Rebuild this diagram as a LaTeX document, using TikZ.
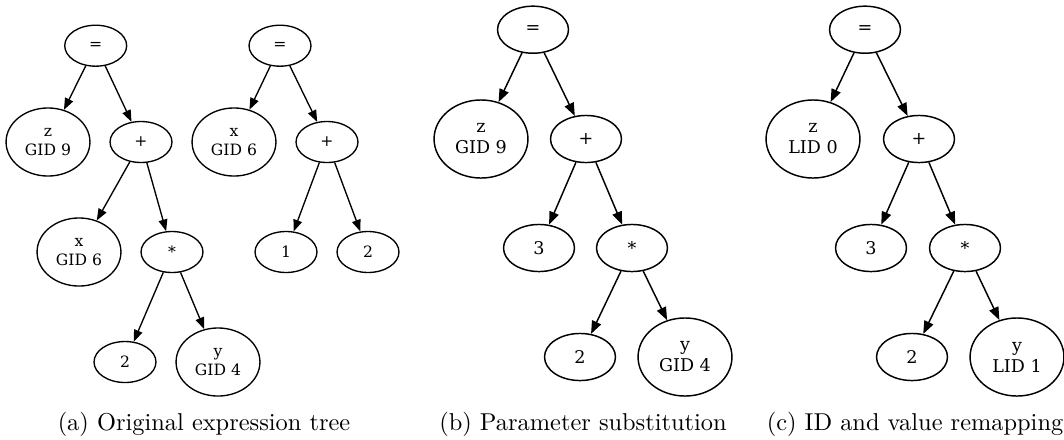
\documentclass[tikz,border=0pt]{standalone}
\usepackage{fontspec}
\newfontfamily\dvserif{DejaVu Serif}
\usetikzlibrary{shapes.geometric,arrows.meta}
\tikzset{
  nodeA/.style={draw, ellipse, inner sep=0pt, line width=0.55pt, align=center,
    font=\dvserif\fontsize{6.4}{8}\selectfont},
  smallA/.style={nodeA, minimum width=25.4pt, minimum height=16.8pt},
  bigA/.style={nodeA, minimum width=34.4pt, minimum height=27.9pt},
  nodeB/.style={draw, ellipse, inner sep=0pt, line width=0.6pt, align=center,
    font=\dvserif\fontsize{7.2}{8.6}\selectfont},
  smallB/.style={nodeB, minimum width=29.1pt, minimum height=19.3pt},
  bigB/.style={nodeB, minimum width=38.5pt, minimum height=32pt},
  edgeA/.style={line width=0.55pt, -{Triangle[length=4.8pt,width=3.6pt]}},
  edgeB/.style={line width=0.6pt, -{Triangle[length=5.3pt,width=4pt]}},
  captext/.style={anchor=base, inner sep=0pt, font=\normalsize}
}
\begin{document}
\begin{tikzpicture}[x=0.41pt, y=-0.41pt]
\useasboundingbox (0,0) rectangle (1064,439);
% (a) first tree
\node[smallA] (aeq) at (95.7,45.7) {=};
\node[bigA] (az) at (48,142) {z\\GID 9};
\node[smallA] (aplus) at (141,142) {+};
\node[bigA] (ax) at (79,252) {x\\GID 6};
\node[smallA] (amul) at (172,252) {*};
\node[smallA] (atwo) at (125,362) {2};
\node[bigA] (ay) at (218,362) {y\\GID 4};
\draw[edgeA] (aeq) -- (az);
\draw[edgeA] (aeq) -- (aplus);
\draw[edgeA] (aplus) -- (ax);
\draw[edgeA] (aplus) -- (amul);
\draw[edgeA] (amul) -- (atwo);
\draw[edgeA] (amul) -- (ay);
% (a) second tree
\node[smallA] (beq) at (280,45.7) {=};
\node[bigA] (bx) at (234,142) {x\\GID 6};
\node[smallA] (bplus) at (327,142) {+};
\node[smallA] (bone) at (286,252) {1};
\node[smallA] (btwo) at (368,252) {2};
\draw[edgeA] (beq) -- (bx);
\draw[edgeA] (beq) -- (bplus);
\draw[edgeA] (bplus) -- (bone);
\draw[edgeA] (bplus) -- (btwo);
% (b)
\node[smallB] (ceq) at (533,29.7) {=};
\node[bigB] (cz) at (481,139) {z\\GID 9};
\node[smallB] (cplus) at (586,139) {+};
\node[smallB] (cthree) at (539,248) {3};
\node[smallB] (cmul) at (632,248) {*};
\node[smallB] (ctwo) at (580,357) {2};
\node[bigB] (cy) at (685,357) {y\\GID 4};
\draw[edgeB] (ceq) -- (cz);
\draw[edgeB] (ceq) -- (cplus);
\draw[edgeB] (cplus) -- (cthree);
\draw[edgeB] (cplus) -- (cmul);
\draw[edgeB] (cmul) -- (ctwo);
\draw[edgeB] (cmul) -- (cy);
% (c)
\node[smallB] (deq) at (865,29.7) {=};
\node[bigB] (dz) at (813,139) {z\\LID 0};
\node[smallB] (dplus) at (919,139) {+};
\node[smallB] (dthree) at (871,248) {3};
\node[smallB] (dmul) at (965,248) {*};
\node[smallB] (dtwo) at (912,357) {2};
\node[bigB] (dy) at (1017,357) {y\\LID 1};
\draw[edgeB] (deq) -- (dz);
\draw[edgeB] (deq) -- (dplus);
\draw[edgeB] (dplus) -- (dthree);
\draw[edgeB] (dplus) -- (dmul);
\draw[edgeB] (dmul) -- (dtwo);
\draw[edgeB] (dmul) -- (dy);
% captions
\node[captext] (capa) at (204,430) {(a) Original expression tree};
\node[captext] (capb) at (583,430) {(b) Parameter substitution};
\node[captext] (capc) at (915,430) {(c) ID and value remapping};
\end{tikzpicture}
\end{document}
